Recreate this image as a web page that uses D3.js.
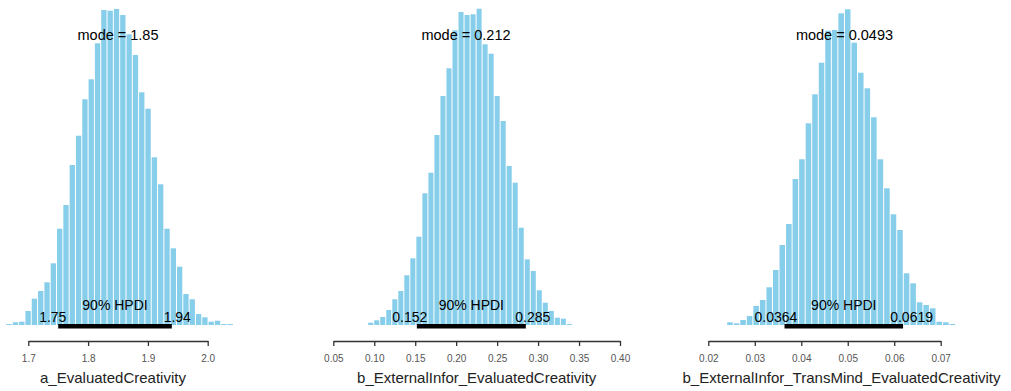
<!DOCTYPE html>
<html>
<head>
<meta charset="utf-8">
<script src="https://cdn.jsdelivr.net/npm/d3@7"></script>
<style>
  body { margin: 0; background: #fff; }
  svg { display: block; font-family: "Liberation Sans", Arial, sans-serif; }
</style>
</head>
<body>
<div id="chart"></div>
<script>
// posterior histograms (bar heights, arbitrary freq units)
var titles = ['a_EvaluatedCreativity', 'b_ExternalInfor_EvaluatedCreativity', 'b_ExternalInfor_TransMind_EvaluatedCreativity'];
var modes = [1.85, 0.212, 0.0493];
var modeLabels = ['1.85', '0.212', '0.0493'];
var hpdiLow = [1.75, 0.152, 0.0364];
var hpdiHigh = [1.94, 0.285, 0.0619];
var hpdiLowLabels = ['1.75', '0.152', '0.0364'];
var hpdiHighLabels = ['1.94', '0.285', '0.0619'];
var binStarts = [1.6627, 0.092, 0.02396];
var binWidths = [0.01056, 0.00735, 0.001407];

var freqA = [1, 2.7, 3.3, 14, 26.3, 34, 42.7, 61.7, 96.3, 120, 160, 189.3, 225.7, 245.7, 281.7, 315,
  314.3, 316, 310, 290.7, 270, 232.7, 216.3, 167.7, 140.7, 96.3, 76.7, 58.3, 31, 25.7, 11, 7.7,
  3.3, 4.3, 1, 1];
var freqB = [2.3, 4.7, 8, 15, 25.7, 34, 49.7, 66.7, 88.3, 131.7, 152.3, 190, 229, 256.7, 294.7, 313,
  310, 310.7, 316.3, 280.7, 271.3, 229, 204, 159, 142.3, 97.3, 65.7, 54, 34.7, 22.3, 14, 7.3, 6.3, 1];
var freqC = [2.7, 1.7, 5, 9, 19, 25, 37.7, 55, 80, 101, 146, 165.7, 201.7, 230.7, 262.3, 294.3,
  295, 311.7, 315.7, 282.3, 252.3, 236.7, 207.7, 165.7, 136.7, 110.7, 95, 51.7, 41.7, 22.7, 20,
  16.7, 3.3, 2.7, 1];

var tickValuesA = [1.7, 1.8, 1.9, 2.0];
var tickValuesB = [0.05, 0.10, 0.15, 0.20, 0.25, 0.30, 0.35, 0.40];
var tickValuesC = [0.02, 0.03, 0.04, 0.05, 0.06, 0.07];

var width = 1011, height = 391;
var baseline = 325, axisY = 341;

// layout of each panel on the page
var panels = [
  { freq: freqA, ticks: tickValuesA, fmt: '.1f', range: [28.3, 207.7], titleX: 113 },
  { freq: freqB, ticks: tickValuesB, fmt: '.2f', range: [333.3, 620], titleX: 476.7 },
  { freq: freqC, ticks: tickValuesC, fmt: '.2f', range: [708.3, 940.7], titleX: 841.5 }
];

var svg = d3.select("#chart")
  .append("svg")
  .attr("width", width)
  .attr("height", height);

svg.append("rect")
  .attr("width", width)
  .attr("height", height)
  .attr("fill", "white");

var y = d3.scaleLinear()
  .domain([0, 320])
  .range([baseline, baseline - 320]);

panels.forEach(function (p, k) {
  var x = d3.scaleLinear()
    .domain([p.ticks[0], p.ticks[p.ticks.length - 1]])
    .range(p.range);

  var g = svg.append("g");

  // histogram bars, 1px white gap between them
  g.selectAll("rect.bar")
    .data(p.freq)
    .enter()
    .append("rect")
    .attr("class", "bar")
    .attr("x", function (d, i) { return x(binStarts[k] + i * binWidths[k]) + 0.5; })
    .attr("width", function (d, i) {
      return x(binStarts[k] + (i + 1) * binWidths[k]) - x(binStarts[k] + i * binWidths[k]) - 1;
    })
    .attr("y", function (d) { return y(d); })
    .attr("height", function (d) { return baseline - y(d); })
    .attr("fill", "#87CEEB");

  // HPDI line
  g.append("line")
    .attr("x1", x(hpdiLow[k]))
    .attr("x2", x(hpdiHigh[k]))
    .attr("y1", 326.2)
    .attr("y2", 326.2)
    .attr("stroke", "black")
    .attr("stroke-width", 4.6);

  g.append("text")
    .attr("x", x((hpdiLow[k] + hpdiHigh[k]) / 2))
    .attr("y", 310)
    .attr("text-anchor", "middle")
    .attr("font-size", "14px")
    .attr("fill", "black")
    .text("90% HPDI");

  var lo = g.append("text")
    .attr("y", 322)
    .attr("font-size", "14px")
    .attr("fill", "black")
    .text(hpdiLowLabels[k]);
  lo.attr("x", x(hpdiLow[k]) - 0.7 * lo.node().getComputedTextLength());

  var hi = g.append("text")
    .attr("y", 322)
    .attr("font-size", "14px")
    .attr("fill", "black")
    .text(hpdiHighLabels[k]);
  hi.attr("x", x(hpdiHigh[k]) - 0.3 * hi.node().getComputedTextLength());

  // mode label
  g.append("text")
    .attr("x", x(modes[k]))
    .attr("y", 40)
    .attr("text-anchor", "middle")
    .attr("font-size", "14.5px")
    .attr("fill", "black")
    .text("mode = " + modeLabels[k]);

  // axis
  var axis = g.append("g")
    .attr("transform", "translate(0," + axisY + ")")
    .call(d3.axisBottom(x)
      .tickValues(p.ticks)
      .tickFormat(d3.format(p.fmt))
      .tickSize(5)
      .tickSizeOuter(0)
      .tickPadding(9));
  axis.select(".domain").attr("stroke", "#333").attr("stroke-width", 1.3);
  axis.selectAll(".tick line").attr("stroke", "#333").attr("stroke-width", 1.3);
  axis.selectAll(".tick text")
    .attr("fill", "#555")
    .attr("font-size", "10px")
    .attr("font-family", "Liberation Sans, Arial, sans-serif");

  g.append("text")
    .attr("x", p.titleX)
    .attr("y", 383)
    .attr("text-anchor", "middle")
    .attr("font-size", "15px")
    .attr("fill", "#222")
    .text(titles[k]);
});
</script>
</body>
</html>
